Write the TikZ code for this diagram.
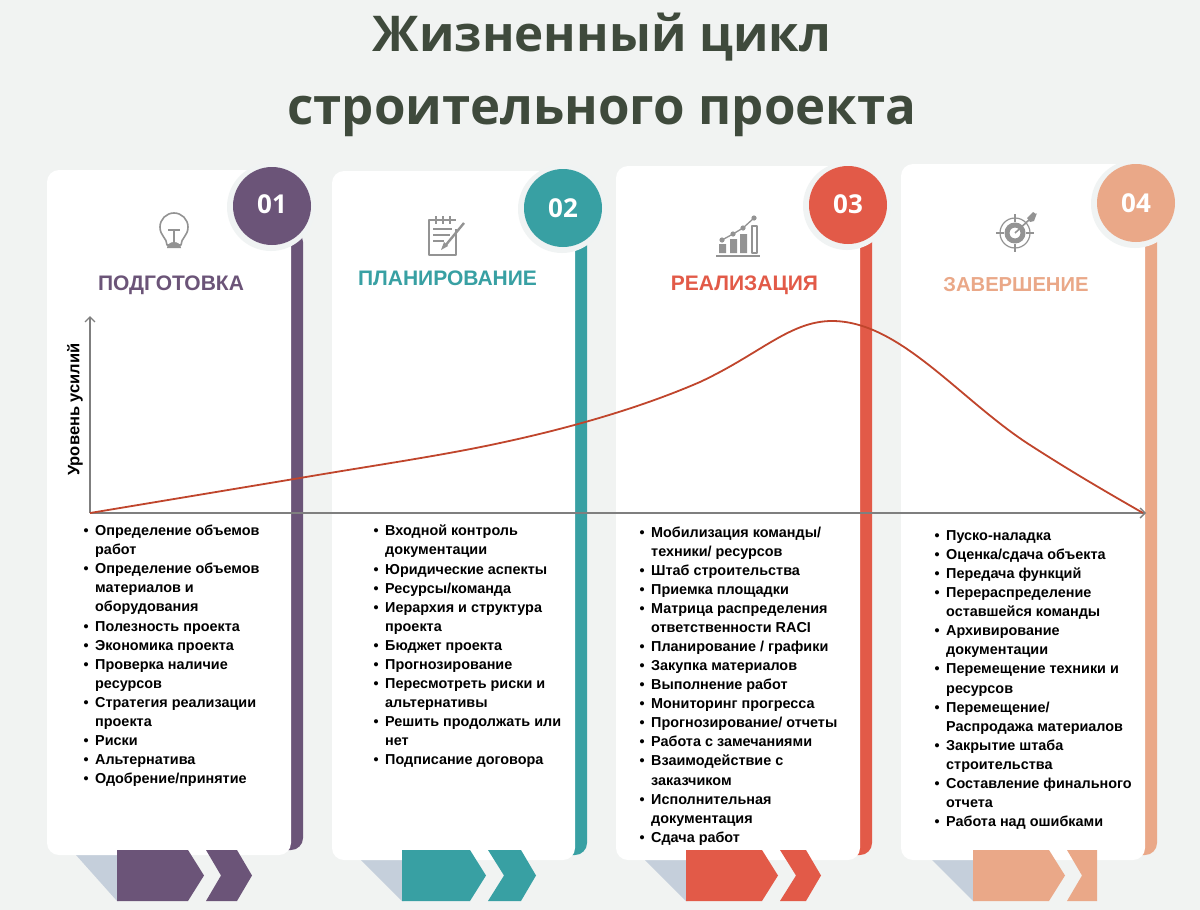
\documentclass[tikz,border=0pt]{standalone}
\usepackage{fontspec}
\setmainfont{Liberation Sans}
\newfontfamily\titlefont{Open Sans}
\definecolor{bgc}{HTML}{F1F3F2}
\definecolor{haloc}{HTML}{F0F3F3}
\definecolor{shadowc}{HTML}{C5CFDB}
\definecolor{titlec}{HTML}{3F4A3C}
\definecolor{purplec}{HTML}{6B5478}
\definecolor{tealc}{HTML}{38A0A3}
\definecolor{redc}{HTML}{E25A48}
\definecolor{peachc}{HTML}{EAA888}
\definecolor{iconc}{HTML}{939393}
\definecolor{axisc}{HTML}{7F7F7F}
\definecolor{curvec}{HTML}{C0452C}
\newcommand{\bl}{\leavevmode\llap{\textbullet\hspace{6.5pt}}}
\usetikzlibrary{arrows.meta}
\tikzset{
  cardbox/.style={fill=white,rounded corners=12pt},
  numcirc/.style={circle,minimum size=78pt,inner sep=0pt},
  numtext/.style={text=white,font=\titlefont\fontsize{26}{26}\selectfont\bfseries,inner sep=0pt},
  halocirc/.style={circle,fill=haloc,minimum size=88pt,inner sep=0pt},
  headtext/.style={font=\fontsize{21}{21}\selectfont\bfseries,inner sep=0pt,anchor=base},
  titletext/.style={font=\titlefont\fontsize{51}{51}\selectfont\bfseries,text=titlec,inner sep=0pt,anchor=base},
  listbox/.style={font=\fontsize{14.4}{19.05}\selectfont\bfseries,align=left,anchor=north west,inner sep=0pt,text=black},
  iconl/.style={draw=iconc,line width=1.6pt,line join=round},
  axisl/.style={draw=axisc,line width=1.4pt,-{Straight Barb[length=5pt,width=10pt]}},
  curvel/.style={draw=curvec,line width=1.8pt},
}
\begin{document}
\begin{tikzpicture}[x=1pt,y=-1pt]
\fill[bgc] (0,0) rectangle (1200,910);
\useasboundingbox (0,0) rectangle (1200,910);
\node[titletext,font=\titlefont\fontsize{49.3}{51}\selectfont\bfseries] (t1) at (602,51) {Жизненный цикл};
\node[titletext] (t2) at (602,124) {строительного проекта};
% --- cards
\newcommand{\card}[9]{% 1 left,2 top,3 right,4 bottom,5 col,6 arrow left,7 arrow tip,8 circle x,9 circle y
  \fill[#5,rounded corners=12pt] (#3-30,#2+60) rectangle (#3+12,#4-5);
  \fill[shadowc] (#6-41,#4) -- (#6+2,#4) -- (#6+2,901) -- (#6,901) -- cycle;
  \fill[cardbox] (#1,#2) rectangle (#3,#4);
  \fill[#5] (#6,850) -- (#7-16,850) -- (#7,875.5) -- (#7-16,901) -- (#6,901) -- cycle;
  \node[halocirc] at (#8-1,#9+1) {};
  \node[numcirc,fill=#5] at (#8,#9) {};
}
\card{47}{170}{291}{855}{purplec}{117}{204}{272}{206}
\fill[purplec] (206,850) -- (237,850) -- (252,875.5) -- (237,901) -- (206,901) -- (221,875.5) -- cycle;
\card{332}{171}{575}{860}{tealc}{402}{486}{563}{208}
\fill[tealc] (488,850) -- (521,850) -- (536,875.5) -- (521,901) -- (488,901) -- (504,875.5) -- cycle;
\card{616}{166}{860}{860}{redc}{686}{778}{848}{205}
\fill[redc] (780,850) -- (806,850) -- (821,875.5) -- (806,901) -- (780,901) -- (796,875.5) -- cycle;
\card{901}{164}{1145}{860}{peachc}{973}{1065}{1136}{203}
\fill[peachc] (1067,850) -- (1097,850) -- (1097,901) -- (1067,901) -- (1082,875.5) -- cycle;
% --- numbers
\node[numtext] (n1) at (272,204) {01};
\node[numtext] (n2) at (563,208) {02};
\node[numtext] (n3) at (848,204) {03};
\node[numtext] (n4) at (1136,203) {04};
% --- headings
\node[headtext,text=purplec] (h1) at (171,290) {ПОДГОТОВКА};
\node[headtext,text=tealc] (h2) at (447.5,285) {ПЛАНИРОВАНИЕ};
\node[headtext,text=redc] (h3) at (744.5,290) {РЕАЛИЗАЦИЯ};
\node[headtext,text=peachc,font=\fontsize{20.2}{21}\selectfont\bfseries] (h4) at (1016,291) {ЗАВЕРШЕНИЕ};
% --- icon 1: bulb
\draw[iconl] (167,245) .. controls (167,238) and (160,236) .. (160,227) arc[start angle=180,end angle=360,radius=14] .. controls (188,236) and (181,238) .. (181,245) -- cycle;
\draw[iconl] (168,230) -- (180,230) (174,230) -- (174,245);
\fill[iconc] (167,248) -- (181,248) arc[start angle=360,end angle=180,x radius=7,y radius=6] -- cycle;
% --- icon 2: notepad
\draw[iconl] (456,229) -- (456,255) -- (429,255) -- (429,220) -- (456,220);
\draw[iconl] (436,216) -- (436,224) (443,216) -- (443,224) (450,216) -- (450,224);
\draw[iconl,line width=1.3pt] (433,229) -- (452,229) (433,235) -- (450,235) (433,241) -- (444,241);
\draw[iconl,line width=2.4pt] (445,246) -- (464,223);
\fill[iconc] (441,250) -- (444,242) -- (448,246) -- cycle;
% --- icon 3: chart
\draw[iconl] (716,256) -- (760,256);
\fill[iconc] (719,244) rectangle (726,253) (730,239) rectangle (737,253) (740,234) rectangle (747,253);
\draw[iconl,line width=1.4pt] (752,226) rectangle (757,253);
\draw[iconl,line width=1.3pt] (722,240) -- (733,234) -- (743,228) -- (754,218);
\fill[iconc] (722,240) circle (2.6) (733,234) circle (2.6) (743,228) circle (2.6) (754,218) circle (2.6);
% --- icon 4: target
\draw[iconl,line width=1.2pt] (1015,233) circle (15);
\draw[iconl,line width=5pt] (1015,233) circle (8);
\draw[iconl,line width=1.2pt] (1015,214) -- (1015,222) (1015,244) -- (1015,252) (996,233) -- (1004,233) (1026,233) -- (1034,233);
\draw[iconl,line width=1.6pt] (1015,233) -- (1030,219);
\fill[iconc] (1027,218) -- (1033,212) -- (1036,214) -- (1037,213) -- (1034,221) -- (1030,222) -- cycle;
% --- axes and curve
\coordinate (o) at (90,513);
\coordinate (ytop) at (90,316);
\coordinate (xend) at (1146,513);
\draw[axisl] (o) -- (ytop);
\draw[axisl] (o) -- (xend);
\node[rotate=90,font=\fontsize{16.5}{17}\selectfont\bfseries,inner sep=0pt] (ylab) at (75,409.5) {Уровень усилий};
\coordinate (c1) at (300,478);
\coordinate (c2) at (500,443);
\coordinate (c3) at (700,382);
\coordinate (c4) at (832,321);
\coordinate (c5) at (1143,513);
\draw[curvel] (o) -- (c1) .. controls (370,466) and (440,456) .. (c2) .. controls (570,428) and (640,408) .. (c3) .. controls (760,354) and (790,321) .. (c4) .. controls (900,321) and (960,400) .. (1030,445) .. controls (1075,474) and (1110,494) .. (c5);
% --- lists
\node[listbox] (l1) at (95,525) {\bl Определение объемов\\работ\\\bl Определение объемов\\материалов и\\оборудования\\\bl Полезность проекта\\\bl Экономика проекта\\\bl Проверка наличие\\ресурсов\\\bl Стратегия реализации\\проекта\\\bl Риски\\\bl Альтернатива\\\bl Одобрение/принятие};
\node[listbox] (l2) at (385,525) {\bl Входной контроль\\документации\\\bl Юридические аспекты\\\bl Ресурсы/команда\\\bl Иерархия и структура\\проекта\\\bl Бюджет проекта\\\bl Прогнозирование\\\bl Пересмотреть риски и\\альтернативы\\\bl Решить продолжать или\\нет\\\bl Подписание договора};
\node[listbox] (l3) at (651,526.6) {\bl Мобилизация команды/\\техники/ ресурсов\\\bl Штаб строительства\\\bl Приемка площадки\\\bl Матрица распределения\\ответственности RACI\\\bl Планирование / графики\\\bl Закупка материалов\\\bl Выполнение работ\\\bl Мониторинг прогресса\\\bl Прогнозирование/ отчеты\\\bl Работа с замечаниями\\\bl Взаимодействие с\\заказчиком\\\bl Исполнительная\\документация\\\bl Сдача работ};
\node[listbox] (l4) at (946,530.5) {\bl Пуско-наладка\\\bl Оценка/сдача объекта\\\bl Передача функций\\\bl Перераспределение\\оставшейся команды\\\bl Архивирование\\документации\\\bl Перемещение техники и\\ресурсов\\\bl Перемещение/\\Распродажа материалов\\\bl Закрытие штаба\\строительства\\\bl Составление финального\\отчета\\\bl Работа над ошибками};
\end{tikzpicture}
\end{document}
